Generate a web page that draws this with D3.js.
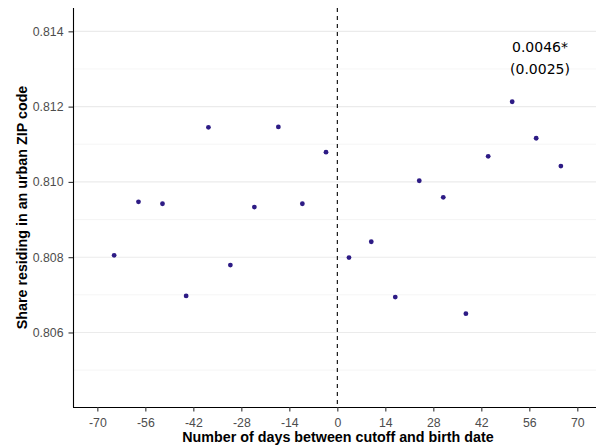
<!DOCTYPE html>
<html><head><meta charset="utf-8">
<script src="https://cdn.jsdelivr.net/npm/d3@7"></script>
<style>body{margin:0;background:#fff}svg{display:block}</style>
</head><body>
<script>
const leftDays = [-65.1, -58.0, -51.0, -44.1, -37.6, -31.2, -24.2, -17.2, -10.2, -3.3];
const leftShare = [0.80805, 0.80947, 0.80942, 0.80697, 0.81145, 0.80779, 0.80933, 0.81146, 0.80942, 0.81079];
const rightDays = [3.4, 9.9, 16.9, 23.9, 30.9, 37.5, 44.0, 51.0, 58.0, 65.2];
const rightShare = [0.80799, 0.80841, 0.80694, 0.81003, 0.80959, 0.80650, 0.81068, 0.81213, 0.81116, 0.81042];
const xTicks = [-70, -56, -42, -28, -14, 0, 14, 28, 42, 56, 70];
const yTicks = [0.806, 0.808, 0.810, 0.812, 0.814];
const yMinor = [0.805, 0.807, 0.809, 0.811, 0.813];
const annotLines = ["0.0046*", "(0.0025)"];
const cutoff = 0;

(function () {
const W = 596, H = 446;
const pL = 73, pR = 596, pT = 8, pB = 407;
const svg = d3.select("body").append("svg").attr("width", W).attr("height", H);

const x = d3.scaleLinear().domain([-77.1, 75.45]).range([pL, pR]);
const y = d3.scaleLinear().domain([0.80402, 0.81462]).range([pB, pT]);

// gridlines
svg.append("g").selectAll("line").data(yMinor).join("line")
  .attr("x1", pL).attr("x2", pR)
  .attr("y1", d => y(d)).attr("y2", d => y(d))
  .attr("stroke", "#efefef").attr("stroke-width", 0.6);
svg.append("g").selectAll("line").data(yTicks).join("line")
  .attr("x1", pL).attr("x2", pR)
  .attr("y1", d => y(d)).attr("y2", d => y(d))
  .attr("stroke", "#ebebeb").attr("stroke-width", 1.1);

// cutoff line
svg.append("line")
  .attr("x1", x(cutoff)).attr("x2", x(cutoff))
  .attr("y1", pT).attr("y2", pB)
  .attr("stroke", "#000").attr("stroke-width", 1.1)
  .attr("stroke-dasharray", "4,4");

// axes
const xAxis = svg.append("g").attr("transform", `translate(0,${pB})`)
  .call(d3.axisBottom(x).tickValues(xTicks).tickSize(4.5).tickPadding(6.5).tickFormat(d => String(d)));
const yAxis = svg.append("g").attr("transform", `translate(${pL},0)`)
  .call(d3.axisLeft(y).tickValues(yTicks).tickSize(4.5).tickPadding(5).tickFormat(d => d.toFixed(3)));
[xAxis, yAxis].forEach(g => {
  g.select(".domain").attr("stroke", "#000").attr("stroke-width", 1.1);
  g.selectAll(".tick line").attr("stroke", "#333").attr("stroke-width", 1.1);
  g.selectAll(".tick text").attr("fill", "#4d4d4d")
    .style("font-family", "'Liberation Sans', Arial, sans-serif").style("font-size", "12.3px");
});
xAxis.select(".domain").attr("d", `M${pL},0.5H${pR}`);
yAxis.select(".domain").attr("d", `M0.5,${pT}V${pB}`);

// points
const pts = leftDays.map((d, i) => ({d, v: leftShare[i]}))
  .concat(rightDays.map((d, i) => ({d, v: rightShare[i]})));
svg.append("g").selectAll("circle").data(pts).join("circle")
  .attr("cx", p => x(p.d)).attr("cy", p => y(p.v)).attr("r", 2.4)
  .attr("fill", "#2d1b85");

// annotation
svg.append("g").selectAll("text").data(annotLines).join("text")
  .attr("x", 540).attr("y", (d, i) => 52.4 + i * 22)
  .attr("text-anchor", "middle")
  .style("font-family", "'DejaVu Sans', sans-serif").style("font-size", "14px")
  .attr("fill", "#000").text(d => d);

// titles
svg.append("text").attr("x", 338).attr("y", 442)
  .attr("text-anchor", "middle")
  .style("font-family", "'Liberation Sans', Arial, sans-serif").style("font-size", "14.3px").style("font-weight", "bold")
  .text("Number of days between cutoff and birth date");
svg.append("text").attr("transform", `translate(26.5,${(pT + pB) / 2}) rotate(-90)`)
  .attr("text-anchor", "middle")
  .style("font-family", "'Liberation Sans', Arial, sans-serif").style("font-size", "14.3px").style("font-weight", "bold")
  .text("Share residing in an urban ZIP code");
})();
</script>
</body></html>
